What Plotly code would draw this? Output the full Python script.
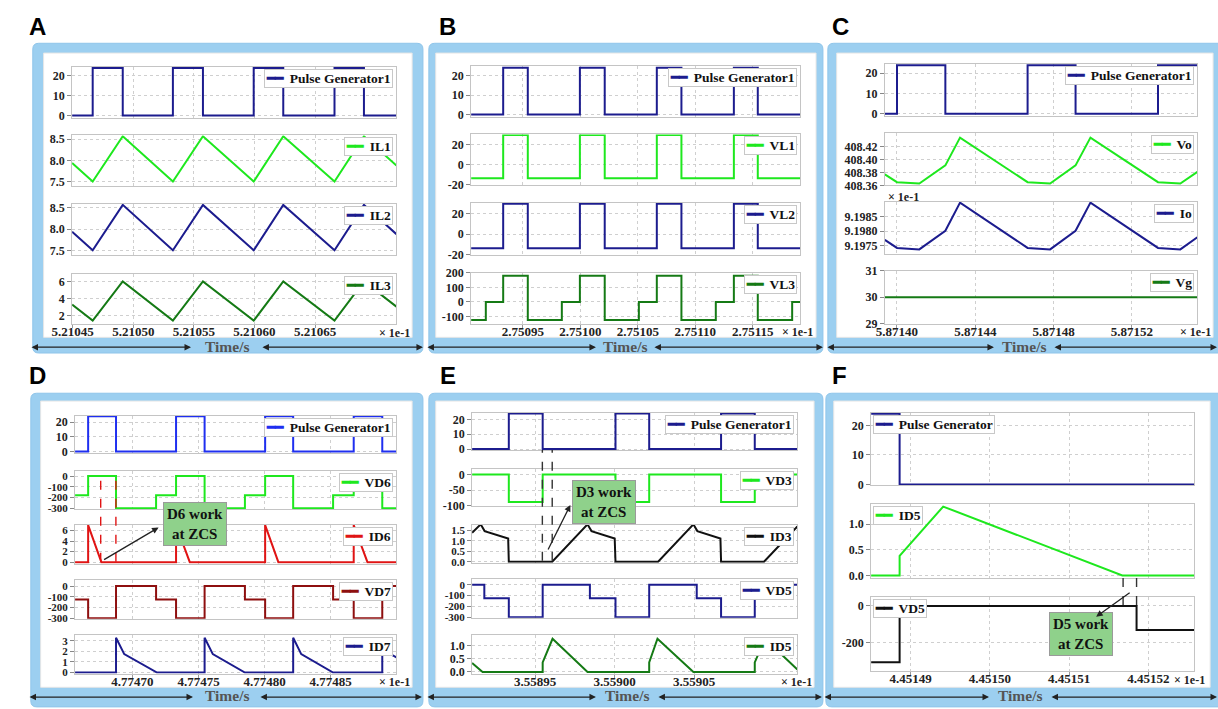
import plotly.graph_objects as go

W, H = 1218, 709

# ---------------- DATA ----------------
# Panel A  (time axis shown as x 1e-1 s)
a_t_pulse = [5.2104495, 5.2104665, 5.2104665, 5.2104913, 5.2104913, 5.2105327, 5.2105327, 5.2105575, 5.2105575,
             5.2105994, 5.2105994, 5.2106238, 5.2106238, 5.2106661, 5.2106661, 5.2106904, 5.2106904, 5.2107172]
a_pulse = [0, 0, 24, 24, 0, 0, 24, 24, 0, 0, 24, 24, 0, 0, 24, 24, 0, 0]
a_t_il = [5.2104495, 5.2104665, 5.2104913, 5.2105327, 5.2105575, 5.2105994, 5.2106238, 5.2106661, 5.2106904, 5.2107172]
a_il1 = [7.94, 7.5, 8.57, 7.5, 8.57, 7.5, 8.57, 7.5, 8.57, 7.88]
a_il2 = [7.94, 7.5, 8.57, 7.5, 8.57, 7.5, 8.57, 7.5, 8.57, 7.88]
a_il3 = [3.3, 1.45, 6.0, 1.45, 6.0, 1.45, 6.0, 1.45, 6.0, 3.07]
a_xticks = [5.21045, 5.21050, 5.21055, 5.21060, 5.21065]
a_xlabels = ["5.21045", "5.21050", "5.21055", "5.21060", "5.21065"]

# Panel B
b_t_pulse = [2.750905, 2.7509329, 2.7509329, 2.7509543, 2.7509543, 2.7509996, 2.7509996, 2.7510212, 2.7510212,
             2.7510665, 2.7510665, 2.7510879, 2.7510879, 2.7511335, 2.7511335, 2.7511543, 2.7511543, 2.7511913]
b_pulse = [0, 0, 24, 24, 0, 0, 24, 24, 0, 0, 24, 24, 0, 0, 24, 24, 0, 0]
b_vl1 = [-13.5, -13.5, 29.6, 29.6, -13.5, -13.5, 29.6, 29.6, -13.5, -13.5, 29.6, 29.6, -13.5, -13.5, 29.6, 29.6, -13.5, -13.5]
b_vl2 = [-13.8, -13.8, 29.8, 29.8, -13.8, -13.8, 29.8, 29.8, -13.8, -13.8, 29.8, 29.8, -13.8, -13.8, 29.8, 29.8, -13.8, -13.8]
b_t_vl3 = [2.750905, 2.7509178, 2.7509178, 2.7509329, 2.7509329, 2.7509543, 2.7509543, 2.7509839, 2.7509839,
           2.7509996, 2.7509996, 2.7510212, 2.7510212, 2.7510509, 2.7510509, 2.7510665, 2.7510665, 2.7510879,
           2.7510879, 2.7511178, 2.7511178, 2.7511335, 2.7511335, 2.7511543, 2.7511543, 2.7511842, 2.7511842, 2.7511913]
b_vl3 = [-124, -124, 0, 0, 178, 178, -124, -124, 0, 0, 178, 178, -124, -124, 0, 0, 178, 178,
         -124, -124, 0, 0, 178, 178, -124, -124, 0, 0]
b_xticks = [2.75095, 2.75100, 2.75105, 2.75110, 2.75115]
b_xlabels = ["2.75095", "2.75100", "2.75105", "2.75110", "2.75115"]

# Panel C
c_t_pulse = [5.8713938, 5.8714000, 5.8714000, 5.8714247, 5.8714247, 5.8714667, 5.8714667, 5.8714912, 5.8714912,
             5.8715333, 5.8715333, 5.8715534]
c_pulse = [0, 0, 24, 24, 0, 0, 24, 24, 0, 0, 24, 24]
c_t_out = [5.8713938, 5.8714000, 5.8714114, 5.8714247, 5.8714322, 5.8714667, 5.8714782, 5.8714912, 5.8714988,
           5.8715333, 5.8715447, 5.8715534]
c_vo = [408.377, 408.365, 408.363, 408.391, 408.434, 408.365, 408.363, 408.391, 408.434, 408.365, 408.363, 408.381]
c_io = [9.19770, 9.19742, 9.19737, 9.19801, 9.19898, 9.19742, 9.19737, 9.19801, 9.19898, 9.19742, 9.19737, 9.19779]
c_t_vg = [5.8713938, 5.8715534]
c_vg = [30, 30]
c_xticks = [5.87140, 5.87144, 5.87148, 5.87152]
c_xlabels = ["5.87140", "5.87144", "5.87148", "5.87152"]

# Panel D
d_t_pulse = [4.7746566, 4.7746665, 4.7746665, 4.7746876, 4.7746876, 4.7747330, 4.7747330, 4.7747546, 4.7747546,
             4.7748004, 4.7748004, 4.7748216, 4.7748216, 4.7748674, 4.7748674, 4.7748890, 4.7748890, 4.7748997]
d_pulse = [0, 0, 24, 24, 0, 0, 24, 24, 0, 0, 24, 24, 0, 0, 24, 24, 0, 0]
d_t_vd = [4.7746566, 4.7746665, 4.7746665, 4.7746876, 4.7746876, 4.7747179, 4.7747179, 4.7747330, 4.7747330,
          4.7747546, 4.7747546, 4.7747851, 4.7747851, 4.7748004, 4.7748004, 4.7748216, 4.7748216, 4.7748518,
          4.7748518, 4.7748674, 4.7748674, 4.7748890, 4.7748890, 4.7748997]
d_vd6 = [-178, -178, 0, 0, -300, -300, -178, -178, 0, 0, -300, -300, -178, -178, 0, 0, -300, -300,
         -178, -178, 0, 0, -300, -300]
d_vd7 = [-125, -125, -300, -300, 0, 0, -125, -125, -300, -300, 0, 0, -125, -125, -300, -300, 0, 0,
         -125, -125, -300, -300, 0, 0]
d_t_id6 = [4.7746566, 4.7746665, 4.7746665, 4.7746765, 4.7747330, 4.7747330, 4.7747434, 4.7748004, 4.7748004,
           4.7748104, 4.7748674, 4.7748674, 4.7748778, 4.7748997]
d_id6 = [0, 0, 7.0, 0, 0, 7.0, 0, 0, 7.0, 0, 0, 7.0, 0, 0]
d_t_id7 = [4.7746566, 4.7746876, 4.7746876, 4.7746938, 4.7747186, 4.7747546, 4.7747546, 4.7747608, 4.7747851,
           4.7748216, 4.7748216, 4.7748277, 4.7748518, 4.7748890, 4.7748890, 4.7748952, 4.7748997]
d_id7 = [0, 0, 3.3, 1.75, 0, 0, 3.3, 1.75, 0, 0, 3.3, 1.75, 0, 0, 3.3, 1.75, 1.43]
d_zcs_t = [4.7746760, 4.7746875]
d_xticks = [4.77470, 4.77475, 4.77480, 4.77485]
d_xlabels = ["4.77470", "4.77475", "4.77480", "4.77485"]

# Panel E
e_t_pulse = [3.5589104, 3.5589335, 3.5589335, 3.5589548, 3.5589548, 3.5590006, 3.5590006, 3.5590218, 3.5590218,
             3.5590670, 3.5590670, 3.5590882, 3.5590882, 3.5591150]
e_pulse = [0, 0, 24, 24, 0, 0, 24, 24, 0, 0, 24, 24, 0, 0]
e_vd3 = [0, 0, -88, -88, 0, 0, -88, -88, 0, 0, -88, -88, 0, 0]
e_t_id3 = [3.5589104, 3.5589158, 3.5589183, 3.5589331, 3.5589335, 3.5589608, 3.5589830, 3.5589855, 3.5590001,
           3.5590006, 3.5590274, 3.5590496, 3.5590521, 3.5590666, 3.5590670, 3.5590940, 3.5591150]
e_id3 = [1.38, 1.78, 1.46, 1.11, 0, 0, 1.78, 1.46, 1.11, 0, 0, 1.78, 1.46, 1.11, 0, 0, 1.68]
e_t_vd5 = [3.5589104, 3.5589181, 3.5589181, 3.5589335, 3.5589335, 3.5589548, 3.5589548, 3.5589845, 3.5589845,
           3.5590006, 3.5590006, 3.5590218, 3.5590218, 3.5590517, 3.5590517, 3.5590670, 3.5590670, 3.5590882,
           3.5590882, 3.5591150]
e_vd5 = [0, 0, -125, -125, -300, -300, 0, 0, -125, -125, -300, -300, 0, 0, -125, -125, -300, -300, 0, 0]
e_t_id5 = [3.5589104, 3.5589170, 3.5589548, 3.5589548, 3.5589610, 3.5589830, 3.5590218, 3.5590218, 3.5590270,
           3.5590496, 3.5590882, 3.5590882, 3.5590946, 3.5591150]
e_id5 = [0.34, 0, 0, 0.36, 1.25, 0, 0, 0.36, 1.25, 0, 0, 0.36, 1.25, 0.09]
e_zcs_t = [3.5589546, 3.5589608]
e_xticks = [3.55895, 3.55900, 3.55905]
e_xlabels = ["3.55895", "3.55900", "3.55905"]

# Panel F
f_t_pulse = [4.4514850, 4.4514886, 4.4514886, 4.4515258]
f_pulse = [24, 24, 0, 0]
f_t_id5 = [4.4514850, 4.4514886, 4.4514886, 4.4514941, 4.4515167, 4.4515258]
f_id5 = [0, 0, 0.38, 1.34, 0, 0]
f_t_vd5 = [4.4514850, 4.4514886, 4.4514886, 4.4515185, 4.4515185, 4.4515258]
f_vd5 = [-305, -305, 0, 0, -130, -130]
f_zcs_t = [4.4515168, 4.4515185]
f_xticks = [4.45149, 4.45150, 4.45151, 4.45152]
f_xlabels = ["4.45149", "4.45150", "4.45151", "4.45152"]

# ---------------- STYLE ----------------
NAVY = '#1c1c8e'
LIME = '#1ee81e'
DKGREEN = '#157a15'
BLUE = '#1f2ff0'
RED = '#e01414'
DKRED = '#8e0f0f'
BLACK = '#111111'
FRAME = '#9ccff0'
SERIF = 'Liberation Serif, Times New Roman, serif'
SANS = 'Liberation Sans, Arial, sans-serif'

fig = go.Figure()
annotations = []
shapes = []


def PX(p):
    return p / W


def PY(p):
    return 1 - p / H


panels = {
    'A': dict(xpx=(52, 382), xr=[5.2104495, 5.2107172], xt=a_xticks, xl=a_xlabels, rows=[
        dict(y=(61, 113), yr=[-1.1, 24.6], yt=[0, 10, 20], yl=['0', '10', '20'],
             tr=[(a_t_pulse, a_pulse, NAVY)], name='Pulse Generator1'),
        dict(y=(131, 183), yr=[7.385, 8.59], yt=[7.5, 8.0, 8.5], yl=['7.5', '8.0', '8.5'],
             tr=[(a_t_il, a_il1, LIME)], name='IL1'),
        dict(y=(201, 253), yr=[7.39, 8.59], yt=[7.5, 8.0, 8.5], yl=['7.5', '8.0', '8.5'],
             tr=[(a_t_il, a_il2, NAVY)], name='IL2'),
        dict(y=(272, 323), yr=[1.1, 6.9], yt=[2, 4, 6], yl=['2', '4', '6'],
             tr=[(a_t_il, a_il3, DKGREEN)], name='IL3'),
    ]),
    'B': dict(xpx=(458, 793), xr=[2.750905, 2.7511913], xt=b_xticks, xl=b_xlabels, rows=[
        dict(y=(60, 112), yr=[-1.15, 25], yt=[0, 10, 20], yl=['0', '10', '20'],
             tr=[(b_t_pulse, b_pulse, NAVY)], name='Pulse Generator1'),
        dict(y=(130, 182), yr=[-20.6, 30.2], yt=[-20, 0, 20], yl=['-20', '0', '20'],
             tr=[(b_t_pulse, b_vl1, LIME)], name='VL1'),
        dict(y=(200, 253), yr=[-20.3, 30.5], yt=[-20, 0, 20], yl=['-20', '0', '20'],
             tr=[(b_t_pulse, b_vl2, NAVY)], name='VL2'),
        dict(y=(271, 323), yr=[-148, 200], yt=[-100, 0, 100, 200], yl=['-100', '0', '100', '200'],
             tr=[(b_t_vl3, b_vl3, DKGREEN)], name='VL3'),
    ]),
    'C': dict(xpx=(879, 1197), xr=[5.8713938, 5.8715534], xt=c_xticks, xl=c_xlabels, rows=[
        dict(y=(58, 111), yr=[-1.0, 24.65], yt=[0, 10, 20], yl=['0', '10', '20'],
             tr=[(c_t_pulse, c_pulse, NAVY)], name='Pulse Generator1'),
        dict(y=(129, 182), yr=[408.36, 408.4405], yt=[408.36, 408.38, 408.40, 408.42],
             yl=['408.36', '408.38', '408.40', '408.42'], tr=[(c_t_out, c_vo, LIME)], name='Vo'),
        dict(y=(199, 252), yr=[9.19721, 9.19900], yt=[9.1975, 9.1980, 9.1985],
             yl=['9.1975', '9.1980', '9.1985'], tr=[(c_t_out, c_io, NAVY)], name='Io'),
        dict(y=(269, 323), yr=[29, 31], yt=[29, 30, 31], yl=['29', '30', '31'],
             tr=[(c_t_vg, c_vg, DKGREEN)], name='Vg'),
    ]),
    'D': dict(xpx=(55, 382), xr=[4.7746566, 4.7748997], xt=d_xticks, xl=d_xlabels, rows=[
        dict(y=(417, 455), yr=[-1.1, 24.4], yt=[0, 10, 20], yl=['0', '10', '20'],
             tr=[(d_t_pulse, d_pulse, BLUE)], name='Pulse Generator1'),
        dict(y=(473, 512), yr=[-306, 51], yt=[-300, -200, -100, 0], yl=['-300', '-200', '-100', '0'],
             tr=[(d_t_vd, d_vd6, LIME)], name='VD6'),
        dict(y=(528, 568), yr=[-0.3, 7.1], yt=[0, 2, 4, 6], yl=['0', '2', '4', '6'],
             tr=[(d_t_id6, d_id6, RED)], name='ID6'),
        dict(y=(585, 624), yr=[-305, 52], yt=[-300, -200, -100, 0], yl=['-300', '-200', '-100', '0'],
             tr=[(d_t_vd, d_vd7, DKRED)], name='VD7'),
        dict(y=(641, 680), yr=[-0.1, 3.53], yt=[0, 1, 2, 3], yl=['0', '1', '2', '3'],
             tr=[(d_t_id7, d_id7, NAVY)], name='ID7'),
    ]),
    'E': dict(xpx=(459, 790), xr=[3.5589104, 3.5591150], xt=e_xticks, xl=e_xlabels, rows=[
        dict(y=(414, 452), yr=[-0.7, 24.5], yt=[0, 10, 20], yl=['0', '10', '20'],
             tr=[(e_t_pulse, e_pulse, NAVY)], name='Pulse Generator1'),
        dict(y=(471, 509), yr=[-101, 18.75], yt=[-100, -50, 0], yl=['-100', '-50', '0'],
             tr=[(e_t_pulse, e_vd3, LIME)], name='VD3'),
        dict(y=(528, 567), yr=[-0.05, 1.77], yt=[0, 0.5, 1.0, 1.5], yl=['0.0', '0.5', '1.0', '1.5'],
             tr=[(e_t_id3, e_id3, BLACK)], name='ID3'),
        dict(y=(584, 623), yr=[-304, 48], yt=[-300, -200, -100, 0], yl=['-300', '-200', '-100', '0'],
             tr=[(e_t_vd5, e_vd5, NAVY)], name='VD5'),
        dict(y=(641, 680), yr=[-0.06, 1.38], yt=[0, 0.5, 1.0], yl=['0.0', '0.5', '1.0'],
             tr=[(e_t_id5, e_id5, DKGREEN)], name='ID5'),
    ]),
    'F': dict(xpx=(865, 1194), xr=[4.4514850, 4.4515258], xt=f_xticks, xl=f_xlabels, left_legend=True, rows=[
        dict(y=(414, 488), yr=[-0.33, 24.3], yt=[0, 10, 20], yl=['0', '10', '20'],
             tr=[(f_t_pulse, f_pulse, NAVY)], name='Pulse Generator'),
        dict(y=(507, 583), yr=[-0.06, 1.39], yt=[0, 0.5, 1.0], yl=['0.0', '0.5', '1.0'],
             tr=[(f_t_id5, f_id5, LIME)], name='ID5'),
        dict(y=(602, 677), yr=[-351, 48], yt=[-200, 0], yl=['-200', '0'],
             tr=[(f_t_vd5, f_vd5, BLACK)], name='VD5'),
    ]),
}

axis_common = dict(showline=True, linecolor='#c4c4c4', linewidth=1, mirror=True,
                   showgrid=True, gridcolor='#cfcfcf', griddash='dot', gridwidth=1,
                   zeroline=False, fixedrange=True)

first_axis = {}
idx = 0
for key, p in panels.items():
    nrows = len(p['rows'])
    for r, row in enumerate(p['rows']):
        idx += 1
        s = '' if idx == 1 else str(idx)
        if r == 0:
            first_axis[key] = 'x' + s
        bottom = (r == nrows - 1)
        pix_per_unit = (row['y'][1] - row['y'][0]) / (row['yr'][1] - row['yr'][0])
        spacing = pix_per_unit * (row['yt'][1] - row['yt'][0])
        yfs = 11 if spacing < 12.5 else 12
        fig.update_layout(**{
            'xaxis' + s: dict(axis_common, domain=[PX(p['xpx'][0]), PX(p['xpx'][1])], anchor='y' + s,
                              range=p['xr'], tickmode='array', tickvals=p['xt'], ticktext=p['xl'],
                              showticklabels=bottom, ticks='outside' if bottom else '',
                              ticklen=3, tickcolor='#999999', ticklabelstandoff=-7,
                              tickfont=dict(family=SERIF, size=13, color='#222222', weight='bold')),
            'yaxis' + s: dict(axis_common, domain=[PY(row['y'][1]), PY(row['y'][0])], anchor='x' + s,
                              range=row['yr'], tickmode='array', tickvals=row['yt'], ticktext=row['yl'],
                              ticks='outside', ticklen=4, tickcolor='#888888',
                              tickfont=dict(family=SERIF, size=yfs, color='#222222', weight='bold')),
        })
        for (tx, ty, col) in row['tr']:
            fig.add_trace(go.Scatter(x=tx, y=ty, mode='lines', name=row['name'],
                                     line=dict(color=col, width=2), showlegend=False,
                                     xaxis='x' + s, yaxis='y' + s, hoverinfo='skip'))
        col = row['tr'][0][2]
        if p.get('left_legend'):
            lx, xa = PX(p['xpx'][0] + 2), 'left'
        else:
            lx, xa = PX(p['xpx'][1] - 3), 'right'
        annotations.append(dict(
            xref='paper', yref='paper', x=lx, y=PY(row['y'][0] + 2), xanchor=xa, yanchor='top',
            text=f"<span style='color:{col}'>━━</span>  {row['name']}", showarrow=False,
            font=dict(family=SERIF, size=13.5, color='#111111', weight='bold'),
            bgcolor='white', bordercolor='#c8c8c8', borderwidth=1, borderpad=1, align='left'))

# ---------------- frames ----------------
frames = {
    'A': ((12, 37, 409, 353), (23, 47, 398, 337), (17, 20), 346.5, 347, (12, 173, 247, 409), 333),
    'B': ((415, 37, 816, 353), (422, 47, 809, 337), (434, 20), 346.5, 347, (415, 585, 646, 816), 332),
    'C': ((821, 37, 1224, 353), (830, 47, 1213, 337), (834, 20), 346.5, 347, (822, 990, 1053, 1218), 332),
    'D': ((10, 394, 409, 714), (20, 402, 398, 694), (17, 376), 702.5, 704, (10, 175, 245, 408), 689),
    'E': ((415, 394, 816, 714), (422, 402, 807, 694), (434, 376), 702.5, 704, (415, 585, 650, 815), 689),
    'F': ((819, 394, 1224, 714), (827, 402, 1210, 694), (833, 376), 702.5, 704, (819, 985, 1050, 1218), 687),
}
xlabel_pos = {'A': 362, 'B': 772, 'C': 1177, 'D': 362, 'E': 771, 'F': 1171}


def rrect(x0, y0, x1, y1, r):
    rx, ry = r / W, r / H
    X0, X1, Y0, Y1 = PX(x0), PX(x1), PY(y0), PY(y1)
    return (f"M{X0 + rx},{Y0} L{X1 - rx},{Y0} Q{X1},{Y0} {X1},{Y0 - ry} L{X1},{Y1 + ry} "
            f"Q{X1},{Y1} {X1 - rx},{Y1} L{X0 + rx},{Y1} Q{X0},{Y1} {X0},{Y1 + ry} "
            f"L{X0},{Y0 - ry} Q{X0},{Y0} {X0 + rx},{Y0} Z")


for key, (outer, inner, letter, ty, ay, arr, xly) in frames.items():
    shapes.append(dict(type='path', xref='paper', yref='paper', path=rrect(*outer, 6),
                       fillcolor=FRAME, line=dict(color='#8fc5ea', width=1), layer='below'))
    shapes.append(dict(type='rect', xref='paper', yref='paper', x0=PX(inner[0]), x1=PX(inner[2]),
                       y0=PY(inner[3]), y1=PY(inner[1]), fillcolor='white',
                       line=dict(color='#e6e6e6', width=1), layer='below'))
    annotations.append(dict(xref='paper', yref='paper', x=PX(letter[0]), y=PY(letter[1]), text=key,
                            showarrow=False, xanchor='center', yanchor='middle',
                            font=dict(family=SANS, size=24, color='black', weight='bold')))
    mid = (arr[1] + arr[2]) / 2
    annotations.append(dict(xref='paper', yref='paper', x=PX(mid), y=PY(ty), text='Time/s',
                            showarrow=False, xanchor='center', yanchor='middle',
                            font=dict(family=SERIF, size=15.5, color='#555555', weight='bold')))
    for (a0, a1) in ((arr[0], arr[1]), (arr[2], arr[3])):
        annotations.append(dict(xref='paper', yref='paper', x=PX(a1), y=PY(ay), ax=-(a1 - a0), ay=0,
                                text='', showarrow=True, arrowside='end+start', arrowhead=2,
                                startarrowhead=2, arrowsize=1, startarrowsize=1, arrowwidth=1.3,
                                arrowcolor='#222222', standoff=0, startstandoff=0))
    annotations.append(dict(xref='paper', yref='paper', x=PX(xlabel_pos[key]), y=PY(xly), text='× 1e-1',
                            showarrow=False, xanchor='left', yanchor='middle',
                            font=dict(family=SERIF, size=12, color='#222222', weight='bold')))

annotations.append(dict(xref='paper', yref='paper', x=PX(880), y=PY(194), text='× 1e-1', showarrow=False,
                        xanchor='left', yanchor='middle',
                        font=dict(family=SERIF, size=12, color='#222222', weight='bold')))

# ---------------- ZCS markers ----------------
zcs = [
    (first_axis['D'], d_zcs_t, RED, (480, 566), 'D6 work<br>at ZCS', (177, 527), (140, 531), (84, 564)),
    (first_axis['E'], e_zcs_t, '#333333', (452, 565), 'D3 work<br>at ZCS', (593, 505), (559, 508), (536, 554)),
    (first_axis['F'], f_zcs_t, '#333333', (578, 610), 'D5 work<br>at ZCS', (1079, 640), (1094, 622), (1129, 597)),
]
for xref, ts, col, (yt, yb), txt, box, head, tail in zcs:
    for t in ts:
        shapes.append(dict(type='line', xref=xref, yref='paper', x0=t, x1=t, y0=PY(yb), y1=PY(yt),
                           line=dict(color=col, width=1.4, dash='dash'), layer='above'))
    annotations.append(dict(xref='paper', yref='paper', x=PX(box[0]), y=PY(box[1]), text=txt,
                            showarrow=False, xanchor='center', yanchor='middle',
                            bgcolor='#8fd18b', bordercolor='#9a9a9a', borderwidth=1, borderpad=3,
                            font=dict(family=SERIF, size=15, color='#111111', weight='bold')))
    annotations.append(dict(xref='paper', yref='paper', x=PX(head[0]), y=PY(head[1]),
                            ax=tail[0] - head[0], ay=tail[1] - head[1], text='', showarrow=True,
                            arrowhead=2, arrowsize=1, arrowwidth=1.3, arrowcolor='#222222',
                            standoff=0, startstandoff=0))

fig.update_layout(width=W, height=H, margin=dict(l=0, r=0, t=0, b=0),
                  paper_bgcolor='white', plot_bgcolor='white', showlegend=False,
                  shapes=shapes, annotations=annotations)

fig.write_html("out.html")
